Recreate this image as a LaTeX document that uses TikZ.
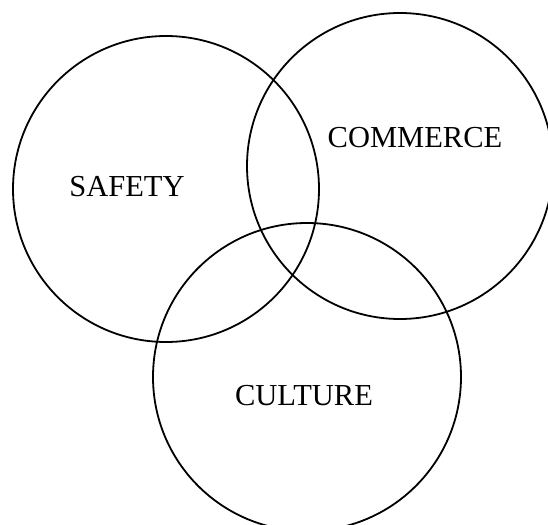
\documentclass[tikz,border=0pt]{standalone}
\usepackage{fontspec}
\setmainfont{Liberation Serif}
\begin{document}
\begin{tikzpicture}[x=1pt,y=-1pt,
  ring/.style={draw, circle, line width=1.8pt, inner sep=0pt},
  lbl/.style={font=\fontsize{30.5}{36}\selectfont, anchor=base, inner sep=0pt}]
\useasboundingbox (0,0) rectangle (548,524);
\clip (0,0) rectangle (548,524);
\node[ring, minimum size=306pt] (safetyc) at (166,189) {};
\node[ring, minimum size=306pt] (commercec) at (400,166) {};
\node[ring, minimum size=308pt] (culturec) at (307,377) {};
\node[lbl] (safety) at (127,196) {SAFETY};
\node[lbl] (commerce) at (415,147) {COMMERCE};
\node[lbl] (culture) at (304,405) {CULTURE};
\end{tikzpicture}
\end{document}
